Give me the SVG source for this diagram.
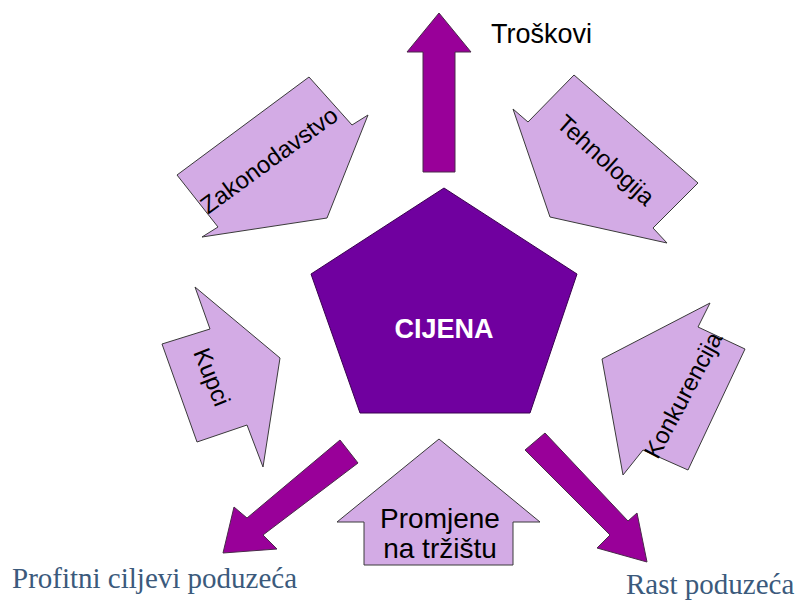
<svg xmlns="http://www.w3.org/2000/svg" width="800" height="600" viewBox="0 0 800 600">
<style>
.light{fill:#D3ABE5;stroke:#3a3a3a;stroke-width:1;stroke-linejoin:miter}
.mag{fill:#990099;stroke:#4a2a4a;stroke-width:1}
.lbl{font-family:"Liberation Sans",Arial,sans-serif;font-size:24px;fill:#000}
.ser{font-family:"Liberation Serif","Times New Roman",serif;font-size:29px;fill:#3b5a7c}
</style>
<rect width="800" height="600" fill="#fff"/>
<g id="cijena">
<polygon points="444,188 577,274 530,413 360,413 311,274" fill="#70009F" stroke="#3a0050" stroke-width="1"/>
<text x="444" y="338" text-anchor="middle" style="font-family:'Liberation Sans',Arial,sans-serif;font-size:27px;font-weight:bold;fill:#fff">CIJENA</text>
</g>
<g id="zakonodavstvo">
<polygon class="light" points="177,175 309,77 352,125 368,115 327,218 202,237 218,227"/>
<text class="lbl" x="269" y="160" dy="0.35em" text-anchor="middle" transform="rotate(-36 269 160)">Zakonodavstvo</text>
</g>
<g id="tehnologija">
<polygon class="light" points="513,109 528,122 574,75 698,183 653,228 667,243 550,217"/>
<text class="lbl" x="606" y="160" dy="0.35em" text-anchor="middle" transform="rotate(42 606 160)">Tehnologija</text>
</g>
<g id="kupci">
<polygon class="light" points="195,287 280,358 263,467 247,425 197,442 162,344 210,329"/>
<text class="lbl" x="212" y="377" dy="0.35em" text-anchor="middle" transform="rotate(68 212 377)">Kupci</text>
</g>
<g id="konkurencija">
<polygon class="light" points="710,303 698,327 745,349 688,470 643,450 623,475 602,359"/>
<text class="lbl" x="683" y="395" dy="0.35em" text-anchor="middle" transform="rotate(-62 683 395)">Konkurencija</text>
</g>
<g id="promjene">
<polygon class="light" points="439,439 540,522 513,522 513,565 364,565 364,522 337,522"/>
<text class="lbl" x="440" y="528" text-anchor="middle" style="font-size:28px">Promjene</text>
<text class="lbl" x="440" y="558" text-anchor="middle" style="font-size:28px">na tržištu</text>
</g>
<g id="connectors">
<polygon class="mag" points="439,13 471,52 455,52 455,172 423,172 423,52 407,52"/>
<polygon class="mag" points="340,440 358,463 263,535 277,549 223,553 234,507 247,518"/>
<polygon class="mag" points="545,433 628,521 637,513 647,562 597,548 610,535 525,450"/>
</g>
<g id="troskovi"><text class="lbl" x="491" y="43" style="font-size:27px">Troškovi</text></g>
<g id="profitni"><text class="ser" x="12" y="588">Profitni ciljevi poduzeća</text></g>
<g id="rast"><text class="ser" x="626" y="594">Rast poduzeća</text></g>
</svg>
